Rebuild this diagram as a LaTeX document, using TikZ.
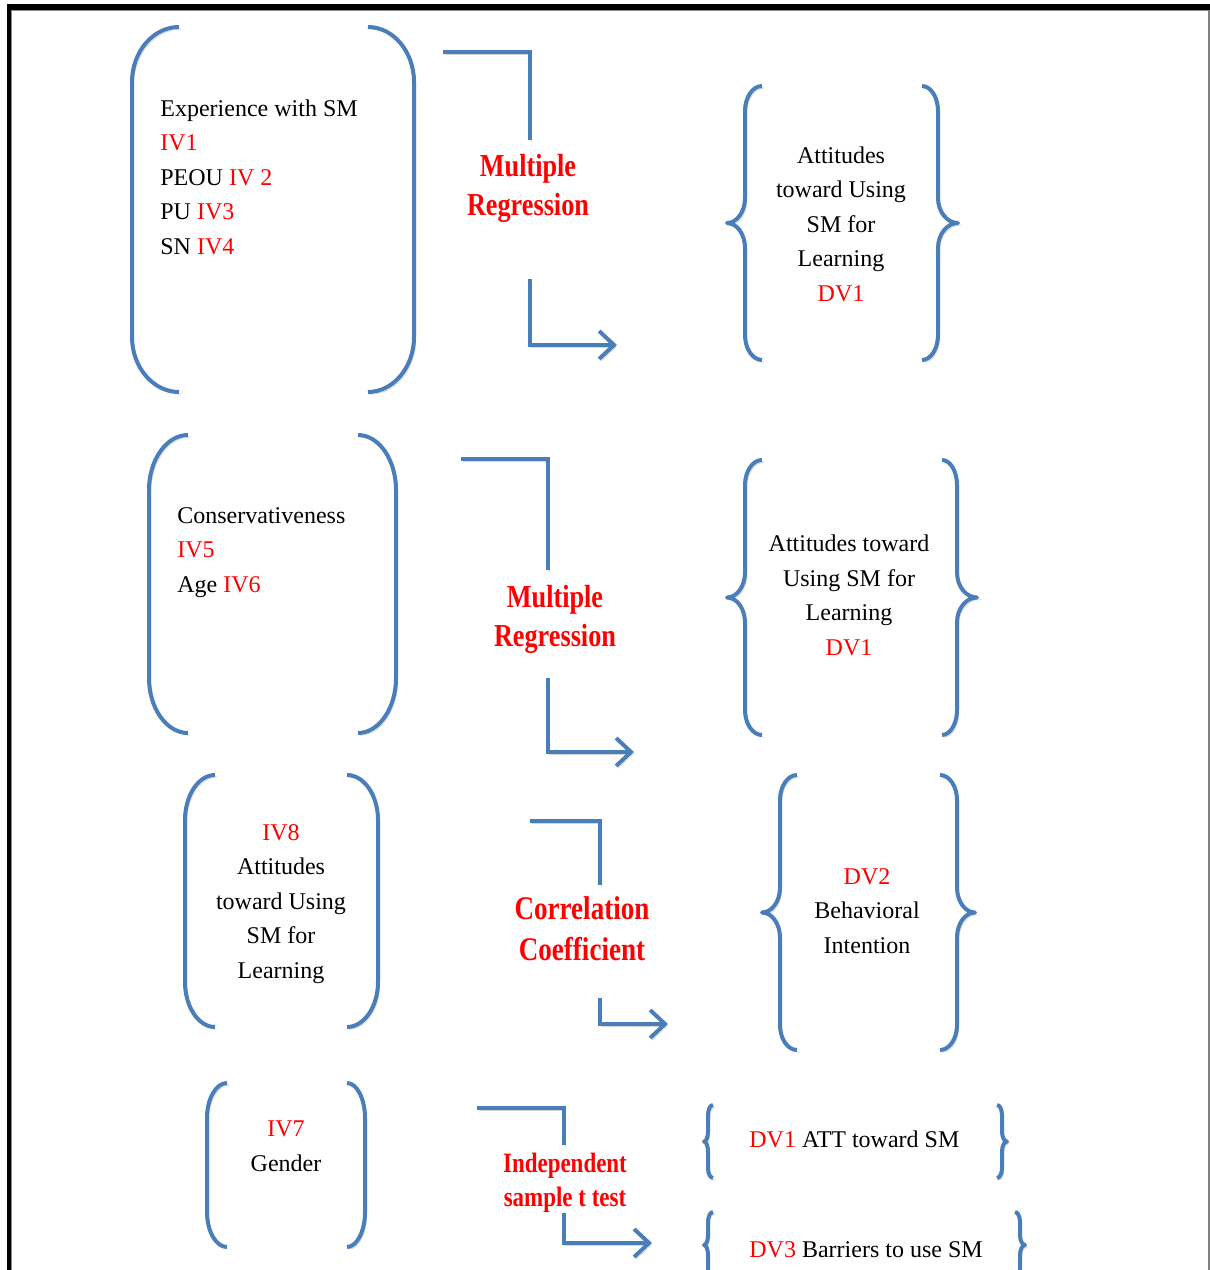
\documentclass[tikz,border=0pt]{standalone}
\usepackage{fontspec}
\setmainfont{Liberation Serif}
\newfontfamily\lblfont{Liberation Serif}[FakeStretch=0.82]
\usetikzlibrary{calc,arrows.meta}
\definecolor{bblue}{RGB}{74,126,187}

% one side of a rounded bracket: line x, tip x, top, bottom, bend
\newcommand\parside[5]{%
  \draw[bline] (#2,#3) .. controls ($(#2,#3)!0.55!(#1,#3)$) and ($(#1,#3+#5)!0.55!(#1,#3)$) .. (#1,#3+#5)
    -- (#1,#4-#5) .. controls ($(#1,#4-#5)!0.55!(#1,#4)$) and ($(#2,#4)!0.55!(#1,#4)$) .. (#2,#4);}
% one side of a curly brace: line x, tip x, point x, top, bottom, bend
\newcommand\braceside[6]{%
  \pgfmathsetmacro\bmid{(#4+#5)/2}%
  \draw[bline] (#2,#4) .. controls ($(#2,#4)!0.55!(#1,#4)$) and ($(#1,#4+#6)!0.55!(#1,#4)$) .. (#1,#4+#6)
    -- (#1,\bmid-#6) .. controls ($(#1,\bmid-#6)!0.55!(#1,\bmid)$) and ($(#3,\bmid)!0.55!(#1,\bmid)$) .. (#3,\bmid)
    .. controls ($(#3,\bmid)!0.55!(#1,\bmid)$) and ($(#1,\bmid+#6)!0.55!(#1,\bmid)$) .. (#1,\bmid+#6)
    -- (#1,#5-#6) .. controls ($(#1,#5-#6)!0.55!(#1,#5)$) and ($(#2,#5)!0.55!(#1,#5)$) .. (#2,#5);}

\begin{document}
\begin{tikzpicture}[x=0.5pt,y=-0.5pt,
  bline/.style={draw=bblue, line width=2pt, line join=round,
    preaction={draw=black!16, transform canvas={shift={(0.9pt,-1.1pt)}}}},
  elbow/.style={bline, line join=miter, -{Straight Barb[length=7.5pt,width=14pt]}},
  plain/.style={bline, line join=miter},
  txt/.style={font=\fontsize{12}{17.25}\selectfont, inner sep=0pt},
  lbl/.style={font=\lblfont\bfseries\fontsize{16}{19.5}\selectfont, text=red, align=center, inner sep=0pt}]
\useasboundingbox (0,0) rectangle (1210,1270);
\clip (0,0) rectangle (1210,1270);

% page frame
\fill[black] (7.3,4) rectangle (1210,9.6);
\fill[black] (7.3,4) rectangle (10.8,1270);
\draw[black!45, line width=0.6pt] (10.8,10.3) -- (1210,10.3);
\draw[black!45, line width=0.6pt] (11.5,10) -- (11.5,1270);
\draw[black!50, line width=0.9pt] (1208.8,10) -- (1208.8,1270);

% multi-line nodes are placed by the baseline of their last line

% ---------- row 1 ----------
\parside{132}{179}{27}{392}{55}
\parside{414}{368}{27}{392}{55}
\node[txt, align=left, anchor=base west] (exp) at (160,254)
  {Experience with SM\\ \textcolor{red}{IV1}\\ PEOU \textcolor{red}{IV 2}\\ PU \textcolor{red}{IV3}\\ SN \textcolor{red}{IV4}};
\node[lbl, anchor=base] (mr1) at (528,215) {Multiple\\ Regression};
\coordinate (a1s) at (443,52);
\coordinate (a1m) at (530,140);
\coordinate (a1n) at (530,279);
\coordinate (a1e) at (617,345);
\draw[plain] (a1s) -| (a1m);
\draw[elbow] (a1n) |- (a1e);
\braceside{745}{762}{727}{86}{360}{25}
\braceside{938}{922}{958}{86}{360}{25}
\node[txt, align=center, anchor=base] (att1) at (841,301)
  {Attitudes\\ toward Using\\ SM for\\ Learning\\ \textcolor{red}{DV1}};

% ---------- row 2 ----------
\parside{149}{188}{435}{733}{55}
\parside{396}{358}{435}{733}{55}
\node[txt, align=left, anchor=base west] (cons) at (177,592)
  {Conservativeness\\ \textcolor{red}{IV5}\\ Age \textcolor{red}{IV6}};
\node[lbl, anchor=base] (mr2) at (555,646) {Multiple\\ Regression};
\coordinate (a2s) at (461,459);
\coordinate (a2m) at (548,570);
\coordinate (a2n) at (548,678);
\coordinate (a2e) at (634,752);
\draw[plain] (a2s) -| (a2m);
\draw[elbow] (a2n) |- (a2e);
\braceside{745}{762}{727}{460}{735}{25}
\braceside{957}{942}{977}{460}{735}{25}
\node[txt, align=center, anchor=base] (att2) at (849,655)
  {Attitudes toward\\ Using SM for\\ Learning\\ \textcolor{red}{DV1}};

% ---------- row 3 ----------
\parside{185}{215}{775}{1027}{45}
\parside{378}{347}{775}{1027}{45}
\node[txt, align=center, anchor=base] (att3) at (281,978)
  {\textcolor{red}{IV8}\\ Attitudes\\ toward Using\\ SM for\\ Learning};
\node[lbl, font=\lblfont\bfseries\fontsize{16.5}{20.5}\selectfont, anchor=base] (corr) at (582,960) {Correlation\\ Coefficient};
\coordinate (a3s) at (530,821);
\coordinate (a3m) at (600,885);
\coordinate (a3n) at (600,998);
\coordinate (a3e) at (668,1024);
\draw[plain] (a3s) -| (a3m);
\draw[elbow] (a3n) |- (a3e);
\braceside{780}{797}{762}{775}{1050}{25}
\braceside{957}{940}{975}{775}{1050}{25}
\node[txt, align=center, anchor=base] (bi) at (867,953)
  {\textcolor{red}{DV2}\\ Behavioral\\ Intention};

% ---------- row 4 ----------
\parside{207}{227}{1083}{1247}{35}
\parside{365}{347}{1083}{1247}{35}
\node[txt, align=center, anchor=base] (gen) at (286,1171)
  {\textcolor{red}{IV7}\\ Gender};
\node[lbl, font=\lblfont\bfseries\fontsize{14}{17}\selectfont, anchor=base] (ind) at (565,1206) {Independent\\ sample t test};
\coordinate (a4s) at (477,1108);
\coordinate (a4m) at (564,1145);
\coordinate (a4n) at (564,1213);
\coordinate (a4e) at (652,1243);
\draw[plain] (a4s) -| (a4m);
\draw[elbow] (a4n) |- (a4e);
\braceside{708}{713}{704}{1105}{1178}{10}
\braceside{1002}{997}{1007}{1105}{1178}{10}
\node[txt, anchor=base west] (dv1) at (749,1147) {\textcolor{red}{DV1} ATT toward SM};
\braceside{708}{713}{704}{1212}{1278}{10}
\braceside{1020}{1015}{1025}{1212}{1278}{10}
\node[txt, anchor=base west] (dv3) at (749,1257) {\textcolor{red}{DV3} Barriers to use SM};
\end{tikzpicture}
\end{document}
